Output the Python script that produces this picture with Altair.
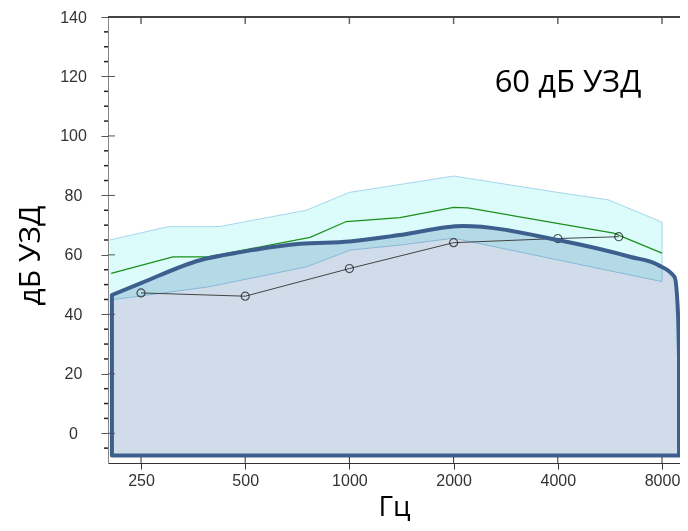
import altair as alt
import pandas as pd

# ---- data ----
band_freq = [203, 300, 420, 750, 1000, 2000, 4000, 5600, 8000]
band_upper = [65, 69.5, 69.5, 75, 81, 86.5, 81, 78.5, 71]
band_lower_freq = [203, 240, 395, 753, 1004, 1400, 2000, 8000]
band_lower = [44.8, 45.9, 49.3, 56, 61.6, 63.3, 65.6, 51]

green_freq = [205, 309, 390, 770, 980, 1400, 2000, 2200, 5800, 8000]
green_db = [53.8, 59.3, 59.3, 65.9, 71.2, 72.5, 76, 75.8, 67.3, 60.6]

poly_freq = [206, 250, 370, 490, 720, 1000, 1400, 2130, 4000, 6500, 7800, 8700, 8900, 8960]
poly_top = [46.5, 50.5, 58.2, 61, 63.7, 64.5, 66.7, 69.7, 65, 59.3, 56.6, 52.5, 40, 25]
poly_floor = -7.5

thr_freq = [250, 500, 1000, 2000, 4000, 6000]
thr_db = [47.2, 46.1, 55.4, 64.1, 65.5, 66.1]

x_ticks = [250, 500, 1000, 2000, 4000, 8000]
y_major = [0, 20, 40, 60, 80, 100, 120, 140]
y_minor = [v for v in range(-5, 141, 5) if v % 20 != 0]

label_text = "60 дБ УЗД"
x_title = "Гц"
y_title = "дБ УЗД"

W, H = 572, 446

band_poly = pd.DataFrame({
    "f": band_freq + band_lower_freq[::-1],
    "v": band_upper + band_lower[::-1],
    "o": list(range(len(band_freq) + len(band_lower_freq))),
})
green_df = pd.DataFrame({"f": green_freq, "v": green_db})
poly_df = pd.DataFrame({"f": poly_freq, "v": poly_top, "b": [poly_floor] * len(poly_freq)})
thr_df = pd.DataFrame({"f": thr_freq, "v": thr_db})
xt_df = pd.DataFrame({"f": x_ticks})
ym_df = pd.DataFrame({"v": y_major})
yn_df = pd.DataFrame({"v": y_minor})

xs = alt.Scale(type="log", domain=[200.7, 9017], nice=False)
ys = alt.Scale(domain=[-10, 140], nice=False, zero=False)

X = alt.X("f:Q", scale=xs, axis=alt.Axis(
    values=x_ticks, format="d", title=x_title, grid=False, labelOverlap=False,
    labelFont="Liberation Sans", labelFontSize=16, labelColor="#333",
    tickColor="#333", tickSize=6, labelPadding=3, domainColor="#333",
    titleFont="Open Sans", titleFontSize=28, titleFontWeight="normal",
    titleColor="#000", titleBaseline="alphabetic", titleY=52, titleX=W / 2,
))
Y = alt.Y("v:Q", scale=ys, axis=alt.Axis(
    values=y_major, grid=False, labelOverlap=False, tickSize=7,
    labelFont="Liberation Sans", labelFontSize=16, labelColor="#333",
    labelAlign="center", labelPadding=28,
    tickColor="#555", domainColor="#888",
    title=y_title, titleFont="Open Sans", titleFontSize=30,
    titleFontWeight="normal", titleColor="#000", titleAngle=-90,
    titleX=-69, titleY=238, titleAlign="center", titleBaseline="alphabetic",
))

band = alt.Chart(band_poly).mark_line(
    filled=True, fill="#dcfcfc", stroke="#a6d6ec", strokeWidth=1, interpolate="linear"
).encode(x=X, y=Y, order="o:Q")

poly_fill = alt.Chart(poly_df).mark_area(
    color="#d1dcea", blend="multiply", interpolate="monotone"
).encode(x=alt.X("f:Q", scale=xs), y=alt.Y("v:Q", scale=ys), y2="b:Q")

green = alt.Chart(green_df).mark_line(color="#1a8f1a", strokeWidth=1.2).encode(
    x=alt.X("f:Q", scale=xs), y=alt.Y("v:Q", scale=ys))

thr_line = alt.Chart(thr_df).mark_line(color="#444", strokeWidth=1).encode(
    x=alt.X("f:Q", scale=xs), y=alt.Y("v:Q", scale=ys))
thr_pts = alt.Chart(thr_df).mark_point(
    shape="circle", size=65, color="#111", strokeWidth=1.2, filled=False
).encode(x=alt.X("f:Q", scale=xs), y=alt.Y("v:Q", scale=ys))

poly_outline = alt.Chart(poly_df).mark_area(
    fillOpacity=0, stroke="#3c5f8d", strokeWidth=4, strokeJoin="round", interpolate="monotone"
).encode(x=alt.X("f:Q", scale=xs), y=alt.Y("v:Q", scale=ys), y2="b:Q")

x_in = alt.Chart(xt_df).mark_rule(color="#333", strokeWidth=1).encode(
    x=alt.X("f:Q", scale=xs), y=alt.value(H - 6), y2=alt.value(H))
x_top = alt.Chart(xt_df).mark_rule(color="#666", strokeWidth=1.5).encode(
    x=alt.X("f:Q", scale=xs), y=alt.value(0), y2=alt.value(7))
y_in = alt.Chart(ym_df).mark_rule(color="#555", strokeWidth=1).encode(
    y=alt.Y("v:Q", scale=ys), x=alt.value(0), x2=alt.value(7))
y_min = alt.Chart(yn_df).mark_rule(color="#222", strokeWidth=1.5).encode(
    y=alt.Y("v:Q", scale=ys), x=alt.value(-4), x2=alt.value(0))
top_line = alt.Chart(xt_df).mark_rule(color="#444", strokeWidth=2).encode(
    x=alt.value(0), x2=alt.value(W), y=alt.value(0))

txt = alt.Chart(pd.DataFrame({"t": [label_text]})).mark_text(
    font="Open Sans", fontSize=31, color="#000", align="center", baseline="alphabetic"
).encode(text="t:N", x=alt.value(460), y=alt.value(75))

chart = alt.layer(
    band, poly_fill, green, thr_line, thr_pts, poly_outline,
    x_in, x_top, y_in, y_min, top_line, txt
).properties(
    width=W, height=H,
    autosize=alt.AutoSizeParams(type="none"),
    padding={"left": 100, "top": 9, "right": 0, "bottom": 60},
).configure_view(stroke="#999", strokeWidth=1)

chart.save("out.html", embed_options={"renderer": "svg", "actions": False})
